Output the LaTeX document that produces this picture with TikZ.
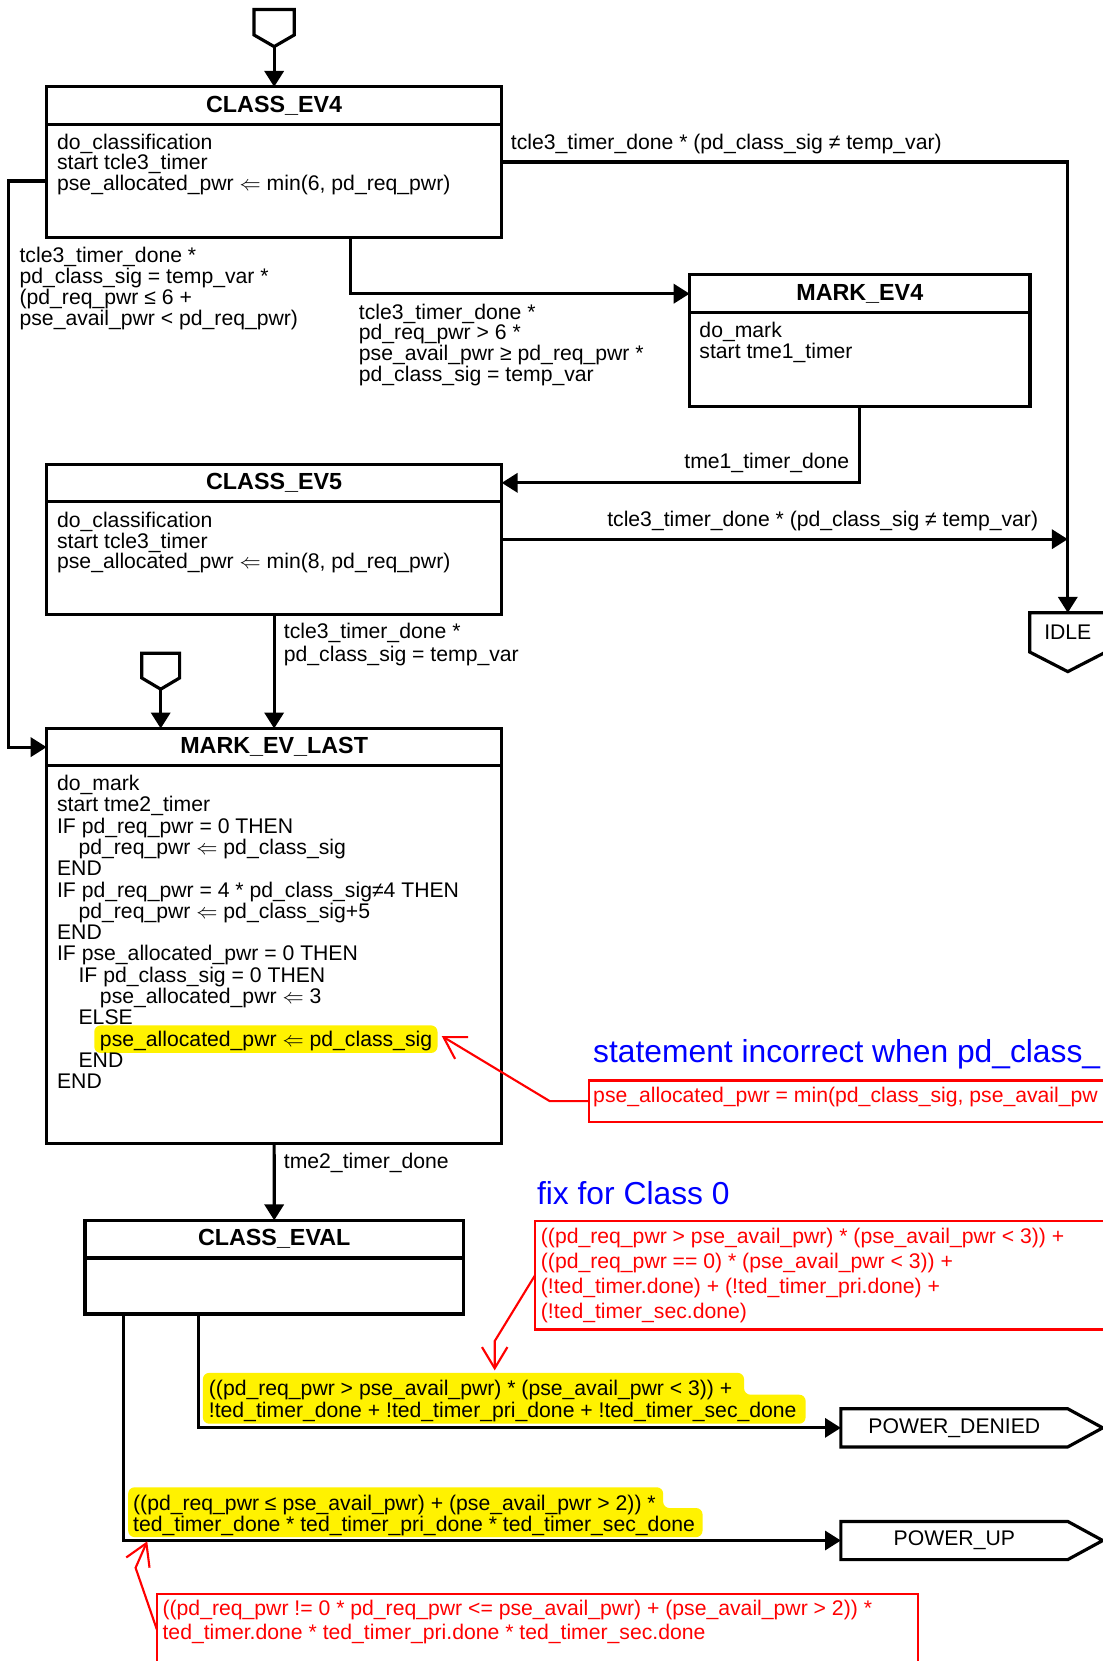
\documentclass[tikz,border=0pt]{standalone}
\usepackage{fontspec}
\setmainfont{Liberation Sans}
\usetikzlibrary{arrows.meta,calc}
\begin{document}
\begin{tikzpicture}[x=0.5pt,y=-0.5pt,
  box/.style={draw,line width=1.5pt,inner sep=0pt,outer sep=0pt,anchor=north west},
  ttl/.style={inner sep=0pt,outer sep=0pt,anchor=north,font=\fontsize{11}{11}\selectfont\bfseries},
  body/.style={inner sep=0pt,outer sep=0pt,anchor=north west,align=left,font=\fontsize{10}{10}\selectfont},
  lbl/.style={inner sep=0pt,outer sep=0pt,font=\fontsize{10}{10}\selectfont},
  wire/.style={line width=1.5pt},
  conn/.style={line width=1.5pt,-{Triangle[length=7.5pt,width=9pt]}},
  term/.style={inner sep=0pt,outer sep=0pt,font=\fontsize{10}{10}\selectfont},
  note/.style={draw=red,line width=1pt,inner sep=0pt,outer sep=0pt,anchor=north west},
  notetxt/.style={body,text=red,font=\fontsize{10}{11.7}\selectfont},
  rconn/.style={draw=red,line width=1pt,-{Straight Barb[length=10pt,width=12pt]}},
  hl/.style={fill=yellow,rounded corners=3pt},
  bluetxt/.style={inner sep=0pt,outer sep=0pt,anchor=base west,text=blue,font=\fontsize{15}{15}\selectfont}
]
\useasboundingbox (0,0) rectangle (1041,1568);
\fill[white] (0,0) rectangle (1041,1568);
\clip (0,0) rectangle (1041,1568);

% yellow highlights
\fill[hl] (89,968) rectangle (413,994);
\fill[hl] (191.5,1296) -- (702.4,1296) -- (702.4,1316.6) -- (760.5,1316.6) -- (760.5,1344) -- (191.5,1344) -- cycle;
\fill[hl] (121,1404) -- (626,1404) -- (626,1423.6) -- (663.2,1423.6) -- (663.2,1451) -- (121,1451) -- cycle;

% entry points
\node[inner sep=0pt,outer sep=0pt,minimum width=19pt,minimum height=12pt] (init1) at (258.8,21) {};
\coordinate (init1tip) at (258.8,44);
\draw[wire] (init1.north west) -- (init1.north east) -- (init1.south east) -- (init1tip) -- (init1.south west) -- cycle;
\node[inner sep=0pt,outer sep=0pt,minimum width=17.85pt,minimum height=11.7pt] (init2) at (151.7,628.3) {};
\coordinate (init2tip) at (151.7,650.6);
\draw[wire] (init2.north west) -- (init2.north east) -- (init2.south east) -- (init2tip) -- (init2.south west) -- cycle;

% CLASS_EV4
\node[box,minimum width=214.8pt,minimum height=71pt] (ev4) at (44,82) {};
\node[ttl,minimum width=214.8pt,minimum height=17.65pt] (ev4t) at (ev4.north) {CLASS\_EV4};
\draw[wire] (ev4t.south west) -- (ev4t.south east);
\node[body,font=\fontsize{10}{9.8}\selectfont] (ev4b) at (53.9,124.7) {\rule{0pt}{8pt}do\_classification\\start tcle3\_timer\\pse\_allocated\_pwr $\Leftarrow$ min(6, pd\_req\_pwr)};

% MARK_EV4
\node[box,minimum width=160.65pt,minimum height=62.15pt] (me4) at (651,259.5) {};
\node[ttl,minimum width=160.65pt,minimum height=17.75pt] (me4t) at (me4.north) {MARK\_EV4};
\draw[wire] (me4t.south west) -- (me4t.south east);
\node[body,font=\fontsize{10}{9.8}\selectfont] (me4b) at (660.3,302.4) {\rule{0pt}{8pt}do\_mark\\start tme1\_timer};

% CLASS_EV5
\node[box,minimum width=214.8pt,minimum height=70.8pt] (ev5) at (44,438.2) {};
\node[ttl,minimum width=214.8pt,minimum height=17.6pt] (ev5t) at (ev5.north) {CLASS\_EV5};
\draw[wire] (ev5t.south west) -- (ev5t.south east);
\node[body,font=\fontsize{10}{9.8}\selectfont] (ev5b) at (53.9,481.8) {\rule{0pt}{8pt}do\_classification\\start tcle3\_timer\\pse\_allocated\_pwr $\Leftarrow$ min(8, pd\_req\_pwr)};

% IDLE
\node[term,minimum width=36pt,minimum height=18.5pt] (idle) at (1008,597) {IDLE};
\coordinate (idletip) at (1008,634);
\draw[wire] (idle.north west) -- (idle.north east) -- (idle.south east) -- (idletip) -- (idle.south west) -- cycle;

% MARK_EV_LAST
\node[box,minimum width=214.8pt,minimum height=196pt] (mel) at (44,687.7) {};
\node[ttl,minimum width=214.8pt,minimum height=17.6pt] (melt) at (mel.north) {MARK\_EV\_LAST};
\draw[wire] (melt.south west) -- (melt.south east);
\node[body,font=\fontsize{10}{10.05}\selectfont] (melb) at (53.9,730.3) {\rule{0pt}{8pt}do\_mark\\start tme2\_timer\\IF pd\_req\_pwr = 0 THEN\\\hspace*{10.15pt}pd\_req\_pwr $\Leftarrow$ pd\_class\_sig\\END\\IF pd\_req\_pwr = 4 * pd\_class\_sig≠4 THEN\\\hspace*{10.15pt}pd\_req\_pwr $\Leftarrow$ pd\_class\_sig+5\\END\\IF pse\_allocated\_pwr = 0 THEN\\\hspace*{10.15pt}IF pd\_class\_sig = 0 THEN\\\hspace*{20.25pt}pse\_allocated\_pwr $\Leftarrow$ 3\\\hspace*{10.15pt}ELSE\\\hspace*{20.25pt}pse\_allocated\_pwr $\Leftarrow$ pd\_class\_sig\\\hspace*{10.15pt}END\\END};

% CLASS_EVAL
\node[box,minimum width=178.65pt,minimum height=44.2pt] (eval) at (80.2,1152) {};
\node[ttl,minimum width=178.65pt,minimum height=17.8pt] (evalt) at (eval.north) {CLASS\_EVAL};
\draw[wire] (evalt.south west) -- (evalt.south east);

% terminals
\node[term,minimum width=107.1pt,minimum height=18pt] (pd) at (900.9,1347.9) {POWER\_DENIED};
\coordinate (pdtip) at (1041,1347.9);
\draw[wire] (pd.south west) -- (pd.north west) -- (pd.north east) -- (pdtip) -- (pd.south east) -- cycle;
\node[term,minimum width=107.1pt,minimum height=18pt] (pu) at (900.9,1454.25) {POWER\_UP};
\coordinate (putip) at (1041,1454.25);
\draw[wire] (pu.south west) -- (pu.north west) -- (pu.north east) -- (putip) -- (pu.south east) -- cycle;

% connectors
\draw[conn] (init1tip) -- (ev4t.north);
\draw[conn] (ev4.east) -| (idle.north);
\draw[conn] ([yshift=-8.9pt]ev4.west) -- ++(-35.6,0) |- (melt.west);
\draw[conn] ([xshift=36.1pt]ev4.south) |- (me4t.west);
\draw[conn] (me4.south) |- (ev5t.east);
\draw[conn] (ev5.east) -- (ev5.east -| idle.north);
\draw[conn] (ev5.south) -- (melt.north);
\draw[conn] (init2tip) -- (init2tip |- melt.north);
\draw[conn] (mel.south) -- (evalt.north);
\draw[conn] ([xshift=-35.9pt]eval.south) |- (pd.west);
\draw[conn] ([xshift=-71.2pt]eval.south) |- (pu.west);

% connector labels
\node[lbl,anchor=base west] (l3) at (482.3,140.7) {tcle3\_timer\_done * (pd\_class\_sig ≠ temp\_var)};
\node[body] (l1) at (18.5,231.7) {\rule{0pt}{8pt}tcle3\_timer\_done *\\pd\_class\_sig = temp\_var *\\(pd\_req\_pwr ≤ 6 +\\pse\_avail\_pwr < pd\_req\_pwr)};
\node[body,font=\fontsize{10}{9.8}\selectfont] (l2) at (338.8,285.2) {\rule{0pt}{8pt}tcle3\_timer\_done *\\pd\_req\_pwr > 6 *\\pse\_avail\_pwr ≥ pd\_req\_pwr *\\pd\_class\_sig = temp\_var};
\node[lbl,anchor=base east] (l4) at (801.7,442.7) {tme1\_timer\_done};
\node[lbl,anchor=base east] (l5) at (980,497.1) {tcle3\_timer\_done * (pd\_class\_sig ≠ temp\_var)};
\node[body,font=\fontsize{10}{10.6}\selectfont] (l6) at (268,587.1) {\rule{0pt}{8pt}tcle3\_timer\_done *\\pd\_class\_sig = temp\_var};
\node[lbl,anchor=base west] (l7) at (268,1103.3) {tme2\_timer\_done};
\node[body,font=\fontsize{10}{10.2}\selectfont] (y1) at (197.2,1301.3) {\rule{0pt}{8pt}((pd\_req\_pwr > pse\_avail\_pwr) * (pse\_avail\_pwr < 3)) +\\!ted\_timer\_done + !ted\_timer\_pri\_done + !ted\_timer\_sec\_done};
\node[body,font=\fontsize{10}{10.2}\selectfont] (y2) at (125.7,1409.8) {\rule{0pt}{8pt}((pd\_req\_pwr ≤ pse\_avail\_pwr) + (pse\_avail\_pwr > 2)) *\\ted\_timer\_done * ted\_timer\_pri\_done * ted\_timer\_sec\_done};

% annotations
\node[bluetxt] (bt1) at (560,1003.2) {statement incorrect when pd\_class\_};
\node[bluetxt] (bt2) at (507,1136.7) {fix for Class 0};

\node[note,minimum width=322pt,minimum height=19.5pt] (n1) at (556,1020) {};
\node[lbl,anchor=base west,text=red] (n1t) at (560,1040.5) {pse\_allocated\_pwr = min(pd\_class\_sig, pse\_avail\_pw};

\node[note,minimum width=347.5pt,minimum height=51pt] (n2) at (505,1153) {};
\node[notetxt] (n2t) at (510.6,1158) {\rule{0pt}{8pt}((pd\_req\_pwr > pse\_avail\_pwr) * (pse\_avail\_pwr < 3)) +\\((pd\_req\_pwr == 0) * (pse\_avail\_pwr < 3)) +\\(!ted\_timer.done) + (!ted\_timer\_pri.done) +\\(!ted\_timer\_sec.done)};

\node[note,minimum width=359.2pt,minimum height=47.8pt] (n3) at (148,1504.4) {};
\node[notetxt,font=\fontsize{10}{11.5}\selectfont] (n3t) at (153.5,1508.9) {\rule{0pt}{8pt}((pd\_req\_pwr != 0 * pd\_req\_pwr <= pse\_avail\_pwr) + (pse\_avail\_pwr > 2)) *\\ted\_timer.done * ted\_timer\_pri.done * ted\_timer\_sec.done};

\coordinate (r1k) at (519,1039.5);
\coordinate (r1t) at (417,978);
\draw[rconn] (n1.west) -- (r1k) -- (r1t);
\coordinate (r2k) at (467,1266);
\coordinate (r2t) at (467,1293.6);
\draw[rconn] (n2.west) -- (r2k) -- (r2t);
\coordinate (r3k) at (128,1480);
\coordinate (r3t) at (139,1455);
\draw[rconn] ([yshift=7.1pt]n3.west) -- (r3k) -- (r3t);
\end{tikzpicture}
\end{document}
